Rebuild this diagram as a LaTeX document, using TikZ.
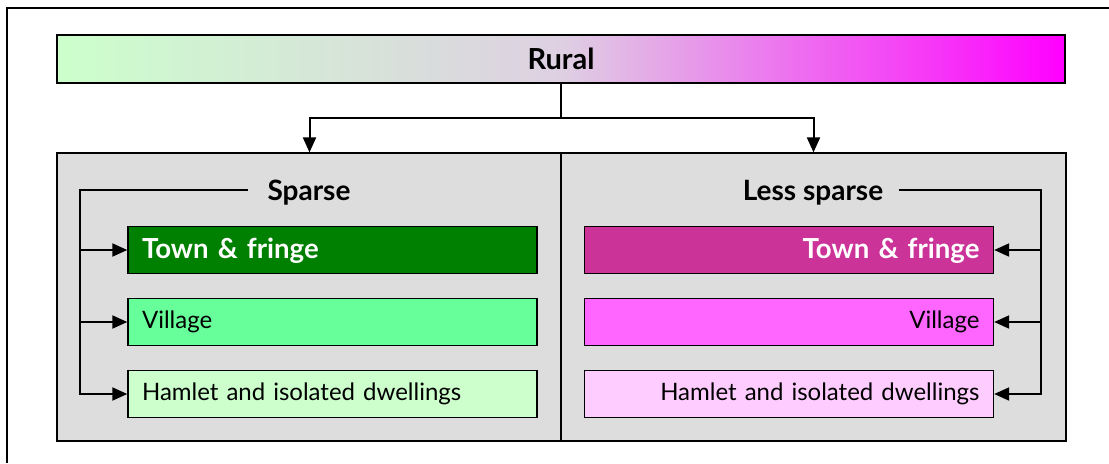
\documentclass[tikz,border=0pt]{standalone}
\usepackage{fontspec}
\setmainfont{Lato}
\usepackage{xcolor}
\usetikzlibrary{arrows.meta,positioning}

\definecolor{paleGreen}{RGB}{204,255,204}
\definecolor{midGreen}{RGB}{102,255,153}
\definecolor{darkGreen}{RGB}{0,128,0}
\definecolor{paleMagenta}{RGB}{255,204,255}
\definecolor{midMagenta}{RGB}{255,102,255}
\definecolor{darkMagenta}{RGB}{204,51,153}
\definecolor{panelGray}{RGB}{221,221,221}
\definecolor{mixGray}{RGB}{222,208,226}

\begin{document}
\begin{tikzpicture}[
  x=0.5pt, y=-0.5pt,
  box/.style={draw, line width=0.7pt, fill=#1, minimum height=23.5pt,
              inner xsep=7pt, text width=190.5pt, text depth=2pt,
              font=\fontsize{12}{14}\selectfont},
  box/.default=white,
  hot/.style={text=white, font=\bfseries\fontsize{13.8}{16}\selectfont},
  panel/.style={draw, line width=0.6pt, fill=panelGray, minimum width=252.5pt,
                minimum height=144pt, inner sep=0pt},
  head/.style={font=\bfseries\fontsize{14}{16}\selectfont, inner sep=0pt},
  arr/.style={-{Triangle[length=7.5pt,width=6.5pt]}, line width=1pt},
  link/.style={line width=1pt},
]
\useasboundingbox (0,0) rectangle (1109,463);
% Outer frame
\draw[line width=1.3pt] (7,463) -- (7,8) -- (1109,8);
% Rural bar
\node[draw, line width=1pt, minimum width=504pt, minimum height=24pt,
      left color=paleGreen, right color=magenta, middle color=mixGray,
      font=\bfseries\fontsize{14.5}{16}\selectfont]
      (rural) at (561,59) {Rural};
% Panels
\node[panel] (lpanel) at (309.5,297) {};
\node[panel] (rpanel) at (813.5,297) {};
\node[head] (sparse)  at (309,193) {Sparse};
\node[head] (less)    at (813,193) {Less sparse};
% Sparse boxes
\node[box=darkGreen, hot, align=left] (ltown) at (332.5,250) {Town \& fringe};
\node[box=midGreen,  align=left] (lvill) at (332.5,322) {Village};
\node[box=paleGreen, align=left] (lham)  at (332.5,394) {Hamlet and isolated dwellings};
% Less sparse boxes
\node[box=darkMagenta, hot, align=right] (rtown) at (789,250) {Town \& fringe};
\node[box=midMagenta,  align=right] (rvill) at (789,322) {Village};
\node[box=paleMagenta, align=right] (rham)  at (789,394) {Hamlet and isolated dwellings};
% Split from Rural
\coordinate (split) at (561,118);
\draw[link] (rural.south) -- (split);
\draw[arr] (split) -| (lpanel.north);
\draw[arr] (split) -| (rpanel.north);
% Left bus
\coordinate (lbus) at (80,190);
\draw[arr] ([xshift=-9.5pt]lbus -| sparse.west) -- (lbus) |- (lham.west);
\draw[arr] (lbus |- ltown.west) -- (ltown.west);
\draw[arr] (lbus |- lvill.west) -- (lvill.west);
% Right bus
\coordinate (rbus) at (1041,190);
\draw[arr] ([xshift=7.5pt]rbus -| less.east) -- (rbus) |- (rham.east);
\draw[arr] (rbus |- rtown.east) -- (rtown.east);
\draw[arr] (rbus |- rvill.east) -- (rvill.east);
\end{tikzpicture}
\end{document}
